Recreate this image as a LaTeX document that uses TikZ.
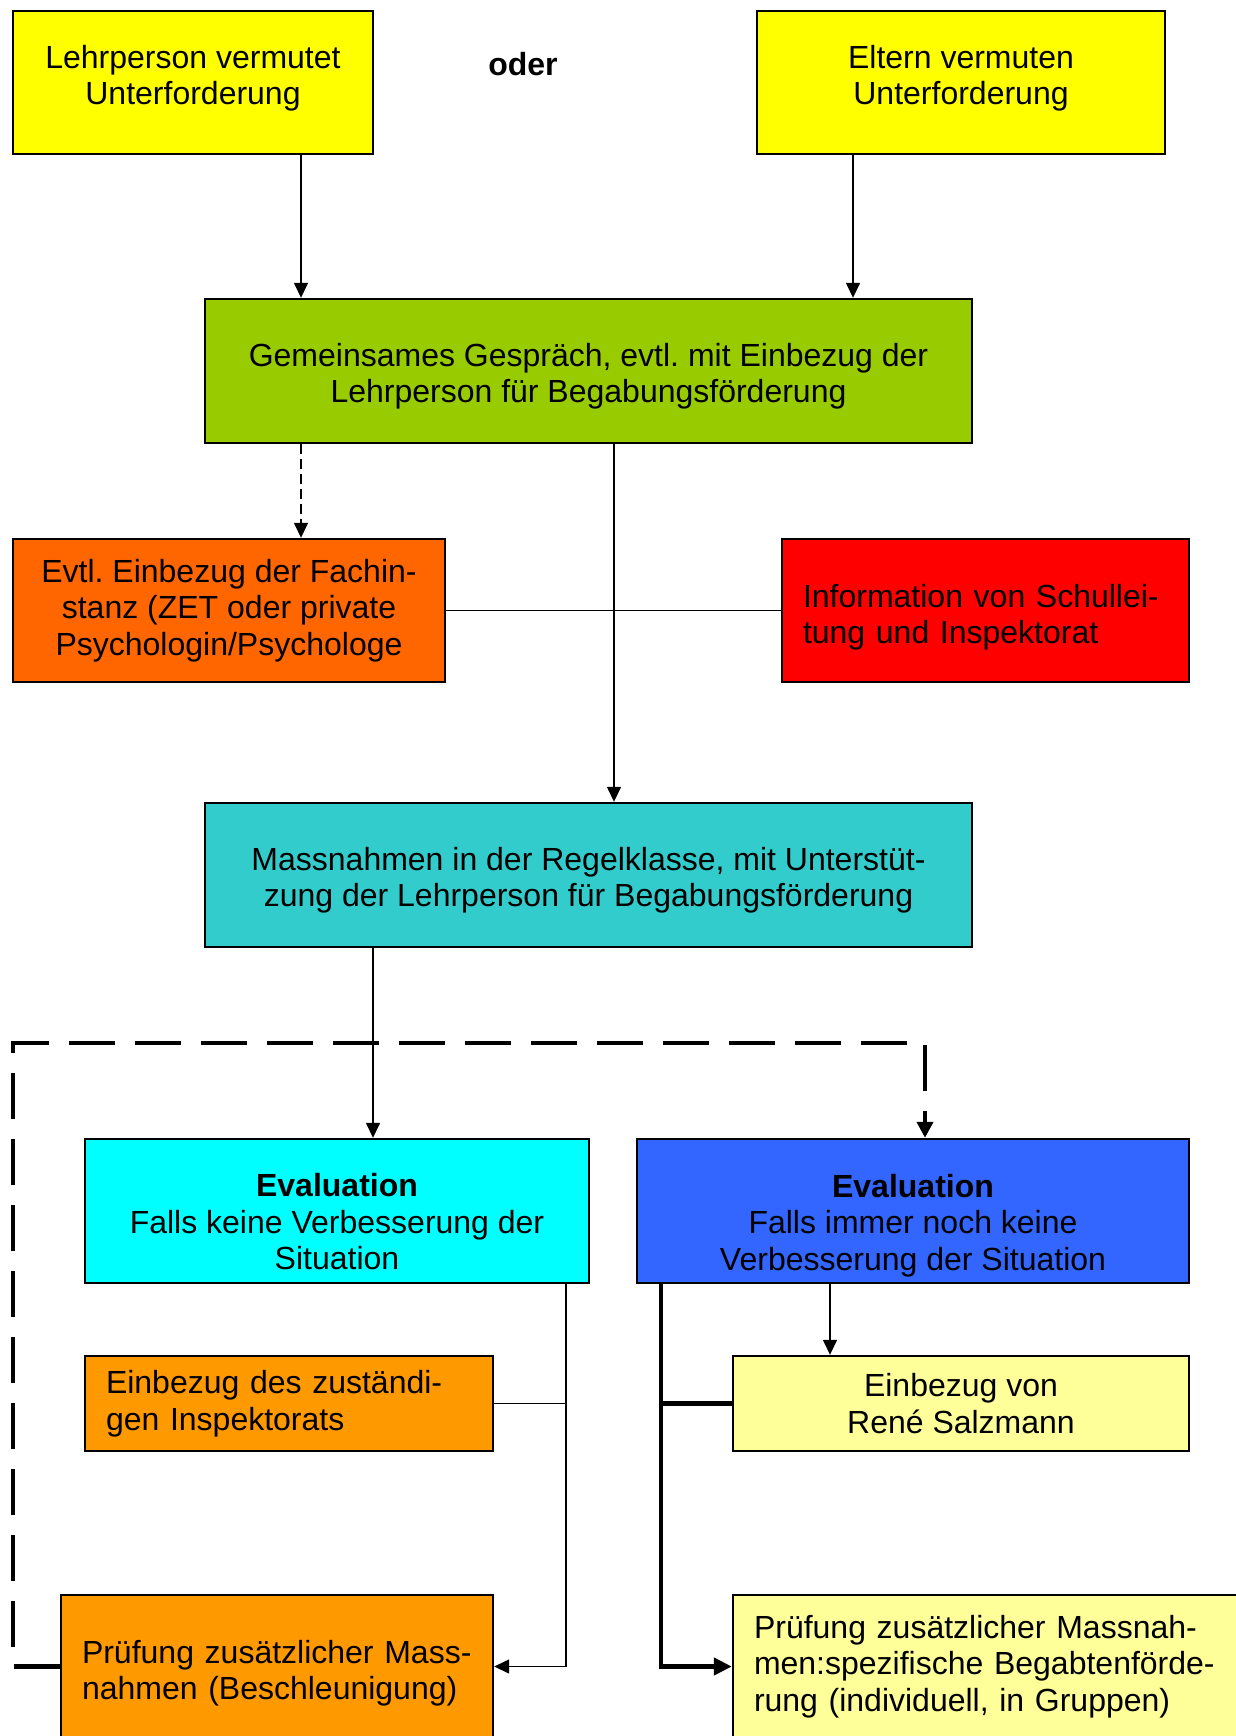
\documentclass[tikz,border=0pt]{standalone}
\usepackage{fontspec}
\setmainfont{Liberation Sans}
\usetikzlibrary{arrows.meta}
\frenchspacing
\definecolor{gelb}{HTML}{FFFF00}
\definecolor{hellgelb}{HTML}{FFFF99}
\definecolor{gruen}{HTML}{99CC00}
\definecolor{dunkelorange}{HTML}{FF6600}
\definecolor{rot}{HTML}{FF0000}
\definecolor{tuerkis}{HTML}{33CCCC}
\definecolor{hellcyan}{HTML}{00FFFF}
\definecolor{blau}{HTML}{3366FF}
\definecolor{orangegelb}{HTML}{FF9900}
\tikzset{
    box/.style={draw, line width=1.2pt, inner sep=0pt, align=center, font=\fontsize{16}{18.25}\selectfont},
    leftbox/.style={box, align=left, inner xsep=10.5pt},
    % Verbindungen
    thinline/.style={line width=0.7pt},
    arrow/.style={thinline, -{Triangle[length=7.5pt, width=7pt]}},
    dashedarrow/.style={arrow, dash pattern=on 5pt off 2.5pt},
    thickline/.style={line width=2.2pt},
    thickarrow/.style={thickline, -{Triangle[length=9pt, width=8.5pt]}},
    loopline/.style={thickline, dash pattern=on 23pt off 10pt, -{Triangle[length=8pt, width=8pt]}}
}
\begin{document}
\begin{tikzpicture}[x=0.5pt, y=-0.5pt]
    \path[use as bounding box, fill=white] (0,0) rectangle (1236,1736);
    \clip (0,0) rectangle (1236,1736);

    % Ausloeser
    \node[box, fill=gelb, minimum width=180pt, minimum height=71.5pt] (lehrer) at (193,82.5) {Lehrperson vermutet\\Unterforderung\rule[-7.8pt]{0pt}{0pt}};
    \node[font=\fontsize{16}{18.25}\selectfont\bfseries] (oder) at (523,64) {oder};
    \node[box, fill=gelb, minimum width=204pt, minimum height=71.5pt] (eltern) at (961,82.5) {Eltern vermuten\\Unterforderung\rule[-7.8pt]{0pt}{0pt}};

    % Gespraech
    \node[box, fill=gruen, minimum width=383.5pt, minimum height=72pt] (gespraech) at (588.5,371) {\rule{0pt}{17pt}Gemeinsames Gespräch, evtl. mit Einbezug der\\Lehrperson für Begabungsförderung};

    % Fachinstanz und Information
    \node[box, fill=dunkelorange, minimum width=216pt, minimum height=71.5pt] (fachinstanz) at (229,610.5) {Evtl. Einbezug der Fachin-\\stanz (ZET oder private\\Psychologin/Psychologe};
    \node[leftbox, fill=rot, text width=182.5pt, minimum height=71.5pt] (info) at (985.5,610.5) {\rule{0pt}{18.2pt}Information von Schullei-\\tung und Inspektorat};

    % Massnahmen
    \node[box, fill=tuerkis, minimum width=383.5pt, minimum height=72pt] (massnahmen) at (588.5,875) {\rule{0pt}{17pt}Massnahmen in der Regelklasse, mit Unterstüt-\\zung der Lehrperson für Begabungsförderung};

    % Evaluationen
    \node[box, fill=hellcyan, minimum width=252pt, minimum height=72pt] (eval1) at (337,1211) {\rule{0pt}{22.6pt}\textbf{Evaluation}\\Falls keine Verbesserung der\\Situation};
    \node[box, fill=blau, minimum width=276pt, minimum height=72pt] (eval2) at (913,1211) {\rule{0pt}{26pt}\textbf{Evaluation}\\Falls immer noch keine\\Verbesserung der Situation};

    % Weitere Schritte
    \node[leftbox, fill=orangegelb, text width=183pt, minimum height=47.5pt] (inspektorat) at (289,1403.5) {Einbezug des zuständi-\\gen Inspektorats};
    \node[box, fill=hellgelb, minimum width=228pt, minimum height=47.5pt] (salzmann) at (961,1403.5) {Einbezug von\\René Salzmann};
    \node[leftbox, fill=orangegelb, text width=195pt, minimum height=71.5pt] (pruef1) at (277,1666.5) {\rule{0pt}{18.2pt}Prüfung zusätzlicher Mass-\\nahmen (Beschleunigung)};
    \node[leftbox, fill=hellgelb, text width=237.5pt, minimum height=71.5pt] (pruef2) at (991.5,1666.5) {Prüfung zusätzlicher Massnah-\\men:spezifische Begabtenförde-\\rung (individuell, in Gruppen)};

    % Spalten der Verbindungen
    \coordinate (c1) at (301,0);
    \coordinate (c2) at (853,0);
    \coordinate (c3) at (614,0);
    \coordinate (c4) at (373,0);
    \coordinate (c5) at (925,0);
    \coordinate (c6) at (566,0);
    \coordinate (c7) at (830,0);
    \coordinate (c8) at (661,0);
    \coordinate (ecke) at (13,1043);

    % Verbindungen
    \draw[arrow] (lehrer.south -| c1) -- (gespraech.north -| c1);
    \draw[arrow] (eltern.south -| c2) -- (gespraech.north -| c2);
    \draw[dashedarrow] (gespraech.south -| c1) -- (fachinstanz.north -| c1);
    \draw[thinline] (fachinstanz.east) -- (info.west);
    \draw[arrow] (gespraech.south -| c3) -- (massnahmen.north -| c3);
    \draw[arrow] (massnahmen.south -| c4) -- (eval1.north -| c4);
    \draw[arrow] (eval1.south -| c6) -- (pruef1.east -| c6) -- (pruef1.east);
    \draw[thinline] (inspektorat.east) -- (inspektorat.east -| c6);
    \draw[arrow] (eval2.south -| c7) -- (salzmann.north -| c7);
    \draw[thickarrow] (eval2.south -| c8) -- (pruef2.west -| c8) -- (pruef2.west);
    \draw[thickline] (salzmann.west -| c8) -- (salzmann.west);
    \draw[loopline] (pruef1.west) -| (ecke) -| (eval2.north -| c5);
\end{tikzpicture}
\end{document}
